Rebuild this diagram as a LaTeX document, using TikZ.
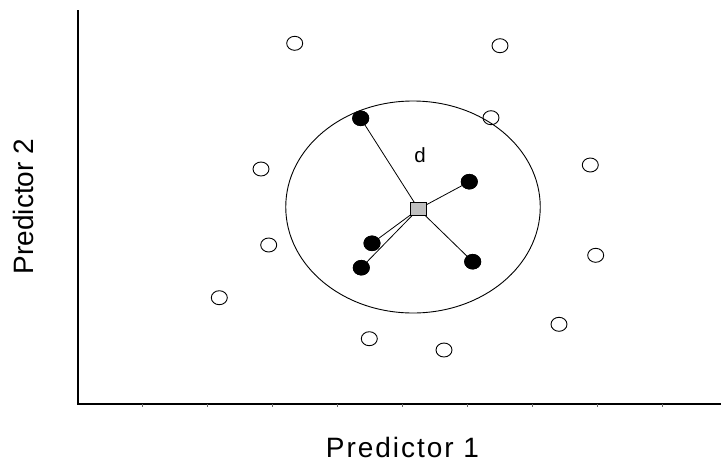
\documentclass[tikz,border=0pt]{standalone}
\usepackage{fontspec}
\setmainfont{Liberation Sans}
\newfontfamily\spacedfont[LetterSpace=7]{Liberation Sans}
\usetikzlibrary{shapes.geometric}
\begin{document}
\begin{tikzpicture}[x=1pt,y=-1pt,
  opendot/.style={ellipse,draw,line width=0.9pt,minimum width=16pt,minimum height=14pt,inner sep=0pt},
  filldot/.style={ellipse,fill=black,minimum width=17pt,minimum height=15.5pt,inner sep=0pt},
  centrebox/.style={rectangle,draw,fill=black!25,minimum width=16pt,minimum height=13.5pt,inner sep=0pt,line width=0.8pt},
  link/.style={line width=0.8pt},
  axisline/.style={line width=1.2pt},
  tickline/.style={line width=0.6pt,black!60},
  zone/.style={ellipse,draw,line width=0.9pt,minimum width=254.5pt,minimum height=212pt,inner sep=0pt}]
\useasboundingbox (0,0) rectangle (721,459);
% axes
\coordinate (top) at (78,10);
\coordinate (origin) at (78,404);
\coordinate (right) at (721,404);
\draw[axisline] (top) -- (origin) -- (right);
\foreach \k in {0,...,8}{
  \coordinate (t\k) at ({142.6+65*\k},404);
  \draw[tickline] (t\k) -- ++(0,3);
}
% neighbourhood
\node[zone] (zone) at (413,207) {};
% open points
\node[opendot] (o1) at (294.7,43.3) {};
\node[opendot] (o2) at (500,45.7) {};
\node[opendot] (o3) at (491,117.7) {};
\node[opendot] (o4) at (261,169) {};
\node[opendot] (o5) at (590.3,165) {};
\node[opendot] (o6) at (268.7,245) {};
\node[opendot] (o7) at (595.7,255.3) {};
\node[opendot] (o8) at (219.3,297.7) {};
\node[opendot] (o9) at (559,324.3) {};
\node[opendot] (o10) at (369.3,338.7) {};
\node[opendot] (o11) at (444,350) {};
% centre and neighbours
\coordinate (c) at (418.5,209);
\node[filldot] (f1) at (360.7,118.3) {};
\node[filldot] (f2) at (469.3,181.7) {};
\node[filldot] (f3) at (372,243.3) {};
\node[filldot] (f4) at (361.3,267.7) {};
\node[filldot] (f5) at (472.7,261.7) {};
\foreach \f in {f1,f2,f3,f4,f5}{
  \draw[link] (c) -- (\f.center);
}
\foreach \f/\p in {f1/{360.7,118.3},f2/{469.3,181.7},f3/{372,243.3},f4/{361.3,267.7},f5/{472.7,261.7}}{
  \node[filldot] at (\p) {};
}
\node[centrebox] (q) at (c) {};
% labels
\node[anchor=base,font=\fontsize{20.5}{24}\selectfont,inner sep=0pt] (d) at (420,162.3) {d};
\node[anchor=base,font=\spacedfont\fontsize{28}{32}\selectfont,inner sep=0pt] (xl) at (402.5,457) {Predictor 1};
\node[anchor=base,rotate=90,font=\fontsize{28}{32}\selectfont,inner sep=0pt] (yl) at (33,206.5) {Predictor 2};
\end{tikzpicture}
\end{document}
